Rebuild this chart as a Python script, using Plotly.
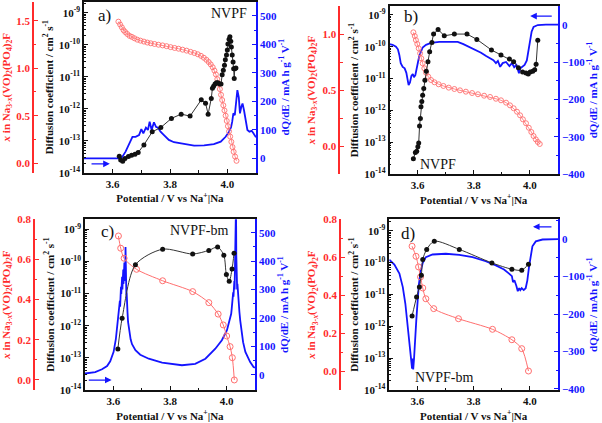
import plotly.graph_objects as go

# ---------------- data ----------------
# panel a) NVPF (charge)
a_red_V = [3.620, 3.626, 3.632, 3.638, 3.644, 3.651, 3.659, 3.667, 3.676, 3.686, 3.697, 3.709, 3.721,
           3.733, 3.746, 3.760, 3.774, 3.788, 3.802, 3.816, 3.830, 3.844, 3.858, 3.872, 3.885, 3.897,
           3.908, 3.918, 3.927, 3.935, 3.942, 3.949, 3.955, 3.960, 3.965, 3.970, 3.974, 3.978, 3.982,
           3.986, 3.990, 3.994, 3.998, 4.002, 4.006, 4.010, 4.014, 4.018, 4.022, 4.027, 4.032]
a_red_x = [1.49, 1.46, 1.43, 1.40, 1.38, 1.36, 1.34, 1.33, 1.315, 1.30, 1.29, 1.28, 1.27,
           1.262, 1.255, 1.247, 1.240, 1.232, 1.222, 1.213, 1.205, 1.195, 1.185, 1.172, 1.160, 1.147,
           1.130, 1.110, 1.088, 1.065, 1.040, 1.010, 0.975, 0.935, 0.885, 0.835, 0.780, 0.720, 0.665,
           0.610, 0.555, 0.500, 0.445, 0.390, 0.335, 0.280, 0.225, 0.170, 0.120, 0.070, 0.025]
a_D_V = [3.623, 3.628, 3.635, 3.643, 3.655, 3.666, 3.678, 3.689, 3.709, 3.738, 3.768, 3.805, 3.839,
         3.870, 3.909, 3.924, 3.933, 3.944, 3.948, 3.952, 3.957, 3.962, 3.967, 3.973, 3.978, 3.982,
         3.986, 3.990, 3.993, 3.997, 4.000, 4.002, 4.006, 4.009, 4.012, 4.014, 4.017, 4.020, 4.022,
         4.024, 4.026, 4.030]
a_D = [3.3e-14, 2.5e-14, 2.3e-14, 2.8e-14, 3.2e-14, 3.5e-14, 3.8e-14, 4.3e-14, 7.4e-14, 1.9e-13,
       2.6e-13, 5.0e-13, 6.8e-13, 5.9e-13, 1.9e-12, 1.5e-12, 6.8e-13, 2.1e-12, 4.4e-12, 5.1e-12,
       6.0e-12, 6.5e-12, 6.5e-12, 6.0e-12, 6.0e-12, 1.15e-11, 1.6e-11, 2.3e-11, 3.4e-11, 4.8e-11,
       6.9e-11, 1.07e-10, 1.5e-10, 1.8e-10, 1.3e-10, 8.5e-11, 4.8e-11, 2.9e-11, 1.8e-11, 8.9e-12,
       1.8e-11, 1.9e-11]
a_dq_V = [3.500, 3.630, 3.645, 3.657, 3.669, 3.680, 3.692, 3.700, 3.707, 3.716, 3.723, 3.729, 3.736,
          3.744, 3.751, 3.758, 3.767, 3.779, 3.796, 3.814, 3.849, 3.884, 3.919, 3.953, 3.977, 3.994,
          4.006, 4.013, 4.017, 4.021, 4.026, 4.030, 4.035, 4.040, 4.044, 4.049, 4.053, 4.058, 4.063,
          4.070, 4.077, 4.085, 4.091, 4.100]
a_dq = [0, 0, 24, 53, 76, 76, 82, 103, 88, 108, 100, 129, 100,
        127, 111, 108, 94, 82, 65, 57, 50, 45, 46, 50, 59, 76,
        94, 110, 129, 158, 152, 205, 240, 214, 158, 182, 193, 170, 135,
        100, 94, 97, 88, 74]

# panel b) NVPF (discharge)
b_red_V = [3.585, 3.590, 3.594, 3.599, 3.604, 3.609, 3.613, 3.618, 3.624, 3.630, 3.638, 3.648, 3.660,
           3.675, 3.692, 3.711, 3.731, 3.751, 3.772, 3.794, 3.815, 3.837, 3.858, 3.879, 3.897, 3.915,
           3.929, 3.942, 3.954, 3.965, 3.975, 3.986, 3.996, 4.005, 4.013, 4.021, 4.028, 4.035]
b_red_x = [1.015, 0.982, 0.946, 0.911, 0.872, 0.828, 0.783, 0.738, 0.694, 0.655, 0.619, 0.589, 0.569,
           0.551, 0.536, 0.521, 0.509, 0.497, 0.485, 0.473, 0.462, 0.449, 0.438, 0.422, 0.408, 0.387,
           0.363, 0.337, 0.306, 0.274, 0.238, 0.203, 0.163, 0.125, 0.089, 0.059, 0.036, 0.018]
b_D_V = [3.585, 3.592, 3.597, 3.601, 3.604, 3.607, 3.610, 3.612, 3.615, 3.618, 3.622, 3.626, 3.631,
         3.637, 3.643, 3.651, 3.657, 3.673, 3.695, 3.731, 3.776, 3.811, 3.863, 3.897, 3.927, 3.942,
         3.959, 3.974, 3.986, 3.994, 4.001, 4.010, 4.017, 4.022, 4.028]
b_D = [3.0e-14, 4.7e-14, 5.2e-14, 7.2e-14, 9.5e-14, 3.2e-13, 5.6e-13, 1.3e-12, 1.9e-12, 3.0e-12,
       4.9e-12, 8.9e-12, 1.7e-11, 3.4e-11, 6.9e-11, 1.35e-10, 2.5e-10, 3.5e-10, 2.2e-10, 2.5e-10,
       2.5e-10, 1.7e-10, 7.9e-11, 5.5e-11, 4.1e-11, 3.4e-11, 2.2e-11, 1.6e-11, 1.5e-11, 1.4e-11,
       1.6e-11, 1.7e-11, 1.9e-11, 2.8e-11, 1.6e-10]
b_dq_V = [3.500, 3.511, 3.523, 3.530, 3.535, 3.540, 3.547, 3.554, 3.560, 3.565, 3.568, 3.573, 3.578,
          3.583, 3.587, 3.592, 3.597, 3.601, 3.606, 3.612, 3.618, 3.630, 3.648, 3.677, 3.713, 3.743,
          3.763, 3.784, 3.806, 3.826, 3.844, 3.858, 3.870, 3.879, 3.886, 3.894, 3.903, 3.915, 3.927,
          3.936, 3.944, 3.952, 3.958, 3.961, 3.966, 3.974, 3.981, 3.989, 3.994, 4.000, 4.006, 4.013,
          4.028, 4.057, 4.100]
b_dq = [-52, -54, -59, -66, -81, -103, -113, -117, -129, -148, -162, -155, -137,
        -132, -141, -135, -120, -102, -84, -70, -61, -54, -49, -46, -45, -46,
        -52, -59, -68, -75, -84, -91, -95, -103, -97, -113, -103, -100, -111,
        -103, -114, -108, -120, -130, -117, -113, -108, -96, -75, -43, -19, -6,
        -1, 0, 0]

# panel c) NVPF-bm (charge)
c_V = [3.616, 3.631, 3.678, 3.774, 3.880, 3.937, 3.968, 3.990, 3.999, 4.009, 4.019, 4.026]
c_D = [1.9e-13, 1.7e-12, 7.9e-11, 2.4e-10, 1.7e-10, 2.2e-10, 2.8e-10, 1.55e-10, 3.9e-11, 2.4e-11,
       5.8e-11, 1.8e-10]
c_red_V = [3.618, 3.626, 3.638, 3.682, 3.774, 3.880, 3.937, 3.970, 3.988, 4.000, 4.012, 4.020, 4.027]
c_red_x = [0.717, 0.656, 0.606, 0.551, 0.494, 0.440, 0.385, 0.328, 0.274, 0.219, 0.166, 0.111, 0.000]
c_dq_V = [3.500, 3.536, 3.560, 3.578, 3.589, 3.601, 3.609, 3.616, 3.621, 3.623, 3.624, 3.625, 3.626,
          3.627, 3.628, 3.629, 3.630, 3.631, 3.632, 3.633, 3.634, 3.635, 3.636, 3.637, 3.638, 3.639,
          3.640, 3.641, 3.642, 3.643, 3.644, 3.645, 3.646, 3.647, 3.648, 3.650, 3.652, 3.656, 3.661,
          3.666, 3.672, 3.678, 3.695, 3.725, 3.772, 3.819, 3.842, 3.889, 3.925, 3.960, 3.983, 4.001,
          4.013, 4.016, 4.018, 4.020, 4.022, 4.023, 4.024, 4.025, 4.026, 4.027, 4.028, 4.029, 4.030,
          4.031, 4.032, 4.033, 4.034, 4.035, 4.036, 4.037, 4.038, 4.040, 4.042, 4.045, 4.048, 4.052,
          4.058, 4.066, 4.083, 4.095, 4.100]
c_dq = [5, 10, 20, 31, 48, 81, 127, 186, 233, 260, 240, 290, 265,
        310, 285, 330, 290, 345, 300, 350, 310, 370, 320, 380, 330, 395,
        340, 360, 330, 450, 310, 340, 280, 290, 240, 220, 186, 150, 125,
        108, 95, 87, 71, 57, 43, 36, 34, 39, 57, 92, 122, 157,
        198, 215, 235, 250, 265, 290, 275, 310, 290, 330, 300, 350, 320,
        400, 560, 600, 420, 330, 350, 300, 320, 280, 250, 221, 190, 151,
        115, 81, 45, 28, 25]

# panel d) NVPF-bm (discharge)
d_V = [3.581, 3.597, 3.607, 3.614, 3.619, 3.633, 3.660, 3.749, 3.865, 3.936, 3.971, 3.995]
d_D = [2.1e-12, 8.3e-12, 1.7e-11, 4.0e-11, 1.26e-10, 2.6e-10, 4.7e-10, 2.6e-10, 9.8e-11, 6.2e-11,
       5.8e-11, 8.9e-11]
d_red_V = [3.581, 3.595, 3.604, 3.611, 3.619, 3.630, 3.658, 3.746, 3.867, 3.936, 3.971, 3.995]
d_red_x = [0.658, 0.605, 0.549, 0.496, 0.438, 0.381, 0.329, 0.276, 0.220, 0.165, 0.118, 0.000]
d_dq_V = [3.500, 3.518, 3.536, 3.548, 3.557, 3.564, 3.570, 3.575, 3.578, 3.581, 3.583, 3.585, 3.588,
          3.591, 3.596, 3.601, 3.605, 3.611, 3.619, 3.630, 3.654, 3.701, 3.749, 3.796, 3.843, 3.879,
          3.908, 3.926, 3.936, 3.940, 3.945, 3.952, 3.957, 3.962, 3.966, 3.971, 3.978, 3.985, 3.991,
          3.997, 4.003, 4.009, 4.021, 4.045, 4.100]
d_dq = [-55, -68, -92, -128, -172, -226, -279, -310, -333, -346, -319, -348, -319,
        -270, -217, -163, -122, -88, -63, -48, -41, -39, -42, -48, -59, -70,
        -81, -92, -99, -115, -110, -125, -139, -131, -136, -131, -136, -131, -110,
        -74, -42, -19, -6, -1, 0]

x_ticks = [3.6, 3.8, 4.0]
log_tickvals = [1e-14, 1e-13, 1e-12, 1e-11, 1e-10, 1e-9]
log_ticktext = ["10<sup>-14</sup>", "10<sup>-13</sup>", "10<sup>-12</sup>", "10<sup>-11</sup>",
                "10<sup>-10</sup>", "10<sup>-9</sup>"]

# ---------------- styling ----------------
W, H = 602, 423
FONT = "Liberation Serif"
RED = "#FF2B2B"
RED_L = "#FF6F6F"
BLUE = "#1414FF"
BLACK = "#111111"

red_title = "<i>x</i> in Na<sub>3-<i>x</i></sub>(VO)<sub>2</sub>(PO<sub>4</sub>)<sub>2</sub>F"
D_title = "Diffusion coefficient / cm<sup>2</sup> s<sup>-1</sup>"
x_title = "Potential / V vs Na<sup>+</sup>|Na"

panels = [
    dict(x0=84, x1=256, y0=1.7, y1=172.7, rx=33, rr=[-0.1, 1.7], rd=0.5, br=[-50, 550], lr=[-14, -8.65],
         btitle="dQ/dE / mA h g<sup>-1</sup> V<sup>-1</sup>",
         red=(a_red_V, a_red_x), D=(a_D_V, a_D), dq=(a_dq_V, a_dq), smooth=False, dense=True,
         letter="a)", lpos=(0.07, 0.92), name="NVPF", npos=(0.96, 0.93, "right"),
         arrow=(3.59, -19, 3.521, -19)),
    dict(x0=389.5, x1=558, y0=6, y1=174, rx=339.3, rr=[-0.25, 1.25], rd=0.5, br=[-400, 50], lr=[-14, -8.72],
         btitle="dQ/dE / mA h g<sup>-1</sup> V<sup>-1</sup>",
         red=(b_red_V, b_red_x), D=(b_D_V, b_D), dq=(b_dq_V, b_dq), smooth=False, dense=True,
         letter="b)", lpos=(0.075, 0.935), name="NVPF", npos=(0.29, 0.055, "center"),
         arrow=(4.001, 23, 4.083, 23)),
    dict(x0=85, x1=255, y0=219.3, y1=390, rx=34, rr=[-0.05, 0.8], rd=0.2, br=[-53, 547], lr=[-14, -8.69],
         btitle="dQ/dE / mA h g<sup>-1</sup> V<sup>-1</sup>",
         red=(c_red_V, c_red_x), D=(c_V, c_D), dq=(c_dq_V, c_dq), smooth=True, dense=False,
         letter="c)", lpos=(0.08, 0.93), name="NVPF-bm", npos=(0.855, 0.935, "right"),
         arrow=(3.594, -18, 3.508, -18)),
    dict(x0=389.3, x1=558, y0=219.3, y1=390, rx=340, rr=[-0.1, 0.8], rd=0.2, br=[-403, 53], lr=[-14, -8.64],
         btitle="dQ/dE / mAh g<sup>-1</sup> V<sup>-1</sup>",
         red=(d_red_V, d_red_x), D=(d_V, d_D), dq=(d_dq_V, d_dq), smooth=True, dense=False,
         letter="d)", lpos=(0.06, 0.915), name="NVPF-bm", npos=(0.325, 0.075, "center"),
         arrow=(4.011, 33, 4.082, 33)),
]


def ax_name(kind, i):
    return kind if i == 1 else f"{kind}{i}"


def tf(size=11, color=BLACK):
    return dict(family=FONT, size=size, color=color, weight="bold")


minor_log = [m * 10.0 ** e for e in range(-14, -8) for m in range(2, 10)]

fig = go.Figure()
layout = {}
annotations = []

for i, p in enumerate(panels):
    n = i + 1
    ib, ir, ik = 3 * i + 1, 3 * i + 2, 3 * i + 3  # blue (base), red, black (log)
    xr = ax_name("x", n)
    yb, yr, yk = ax_name("y", ib), ax_name("y", ir), ax_name("y", ik)
    ydom = [1 - p["y1"] / H, 1 - p["y0"] / H]

    layout[ax_name("xaxis", n)] = dict(
        domain=[p["x0"] / W, p["x1"] / W], anchor=yb, range=[3.5, 4.1],
        tickvals=x_ticks, ticktext=["3.6", "3.8", "4.0"], ticks="inside", ticklen=4, tickwidth=1.2,
        minor=dict(ticks="inside", ticklen=2.5, tickvals=[3.5, 3.7, 3.9, 4.1], tickcolor=BLACK),
        showline=True, mirror=True, linecolor=BLACK, linewidth=1.5, tickcolor=BLACK,
        tickfont=tf(11), showgrid=False, zeroline=False, automargin=False,
        title=dict(text=x_title, font=tf(11), standoff=6))

    layout[ax_name("yaxis", ib)] = dict(
        domain=ydom, anchor=xr, side="right", range=p["br"], dtick=100,
        ticks="inside", ticklen=4, tickwidth=1.2, tickcolor=BLUE,
        minor=dict(ticks="inside", ticklen=2.5, dtick=50, tickcolor=BLUE),
        showline=True, linecolor=BLUE, linewidth=1.5, tickfont=tf(11, BLUE),
        showgrid=False, zeroline=False, automargin=False,
        title=dict(text=p["btitle"], font=tf(11, BLUE), standoff=4))

    layout[ax_name("yaxis", ir)] = dict(
        overlaying=yb, anchor="free", position=p["rx"] / W, side="left",
        range=p["rr"], dtick=p["rd"], tick0=0, tickformat=".1f",
        ticks="inside", ticklen=4, tickwidth=1.2, tickcolor=RED,
        minor=dict(ticks="inside", ticklen=2.5, dtick=p["rd"] / 2, tickcolor=RED),
        showline=True, linecolor=RED, linewidth=1.5, tickfont=tf(11, RED),
        showgrid=False, zeroline=False, automargin=False,
        title=dict(text=red_title, font=tf(11, RED), standoff=4))

    layout[ax_name("yaxis", ik)] = dict(
        overlaying=yb, anchor=xr, side="left", type="log", range=p["lr"],
        tickvals=log_tickvals, ticktext=log_ticktext,
        ticks="inside", ticklen=4, tickwidth=1.2, tickcolor=BLACK,
        minor=dict(ticks="inside", ticklen=2, tickvals=minor_log, tickcolor=BLACK),
        showline=True, linecolor=BLACK, linewidth=1.5, tickfont=tf(11, BLACK),
        showgrid=False, zeroline=False, automargin=False,
        title=dict(text=D_title, font=tf(11, BLACK), standoff=3))

    shape = "spline" if p["smooth"] else "linear"

    fig.add_trace(go.Scatter(
        x=p["dq"][0], y=p["dq"][1], xaxis=xr, yaxis=yb, mode="lines",
        line=dict(color=BLUE, width=1.8), showlegend=False, cliponaxis=True))

    if p["dense"]:
        fig.add_trace(go.Scatter(
            x=p["red"][0], y=p["red"][1], xaxis=xr, yaxis=yr, mode="lines+markers",
            line=dict(color=RED_L, width=0.8),
            marker=dict(symbol="circle-open", size=5, color=RED_L, line=dict(width=0.9)),
            showlegend=False))
    else:
        fig.add_trace(go.Scatter(
            x=p["red"][0], y=p["red"][1], xaxis=xr, yaxis=yr, mode="lines+markers",
            line=dict(color=RED_L, width=1, shape="spline", smoothing=0.8),
            marker=dict(symbol="circle-open", size=6, color=RED_L, line=dict(width=1)),
            showlegend=False))

    fig.add_trace(go.Scatter(
        x=p["D"][0], y=p["D"][1], xaxis=xr, yaxis=yk, mode="lines+markers",
        line=dict(color="#333333", width=1, shape=shape, smoothing=0.8),
        marker=dict(symbol="circle", size=5, color=BLACK),
        showlegend=False))

    xd = "x domain" if n == 1 else f"x{n} domain"
    ydd = "y domain" if ib == 1 else f"y{ib} domain"
    annotations.append(dict(text=p["letter"], xref=xd, yref=ydd, x=p["lpos"][0], y=p["lpos"][1],
                            xanchor="left", yanchor="middle", showarrow=False,
                            font=dict(family=FONT, size=17, color=BLACK)))
    annotations.append(dict(text=p["name"], xref=xd, yref=ydd, x=p["npos"][0], y=p["npos"][1],
                            xanchor=p["npos"][2], yanchor="middle", showarrow=False,
                            font=dict(family=FONT, size=14, color=BLACK)))
    hx, hy, tx, ty = p["arrow"]
    annotations.append(dict(text="", xref=xr, yref=yb, axref=xr, ayref=yb, x=hx, y=hy, ax=tx, ay=ty,
                            showarrow=True, arrowhead=2, arrowsize=1.1, arrowwidth=1.2,
                            arrowcolor=BLUE))

fig.update_layout(width=W, height=H, margin=dict(l=0, r=0, t=0, b=0),
                  paper_bgcolor="white", plot_bgcolor="white", showlegend=False,
                  annotations=annotations, **layout)

fig.write_html("out.html", config={"displayModeBar": False},
               post_script="document.body.style.margin='0px';document.body.style.overflow='hidden';")
